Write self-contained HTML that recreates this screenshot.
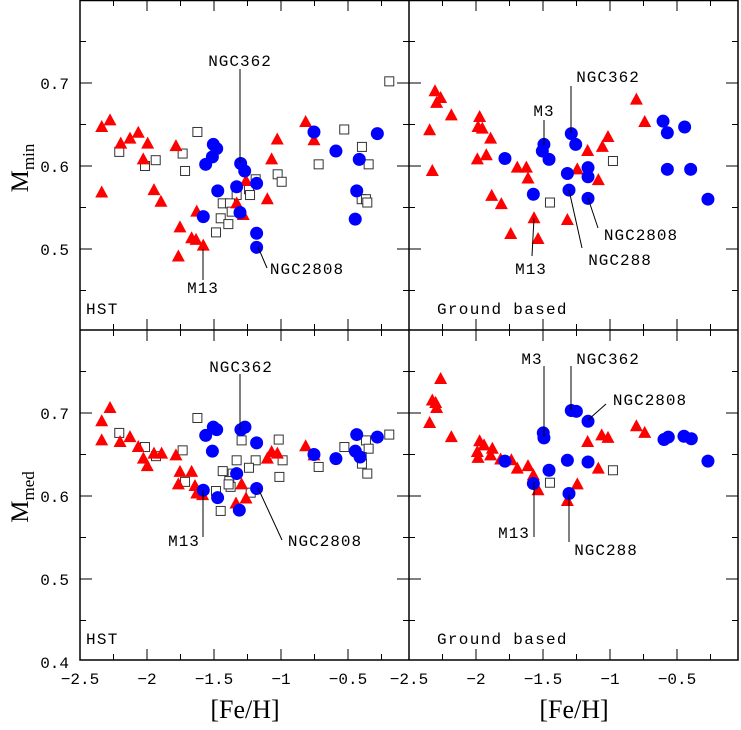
<!DOCTYPE html>
<html><head><meta charset="utf-8"><style>
body{margin:0;background:#fff}
svg text{font-family:"Liberation Serif","DejaVu Serif",serif;fill:#000}
svg text.m{font-family:"Liberation Mono","DejaVu Sans Mono",monospace}
</style></head><body>
<svg id="c" width="741" height="725" xmlns="http://www.w3.org/2000/svg"></svg>
<script>
// Top-left panel (HST, M_min)
const tlTri=[[-2.338,0.647],[-2.276,0.655],[-2.196,0.627],[-2.127,0.633],[-2.065,0.640],[-1.995,0.627],[-2.028,0.608],[-2.338,0.568],[-1.948,0.571],[-1.896,0.557],[-1.784,0.624],[-1.629,0.545],[-1.754,0.526],[-1.667,0.513],[-1.634,0.511],[-1.580,0.504],[-1.766,0.491],[-1.261,0.582],[-1.331,0.555],[-1.282,0.541],[-1.028,0.632],[-1.070,0.608],[-1.102,0.560],[-0.816,0.653],[-0.754,0.631]];
const tlCirc=[[-1.505,0.626],[-1.480,0.621],[-1.512,0.611],[-1.562,0.602],[-1.472,0.570],[-1.580,0.539],[-1.301,0.603],[-1.271,0.594],[-1.331,0.575],[-1.182,0.579],[-1.306,0.544],[-1.182,0.519],[-1.182,0.502],[-0.754,0.641],[-0.590,0.618],[-0.416,0.608],[-0.281,0.639],[-0.435,0.570],[-0.446,0.536]];
const tlSq=[[-0.192,0.702],[-1.624,0.641],[-2.207,0.617],[-1.734,0.615],[-1.935,0.607],[-2.015,0.600],[-1.716,0.594],[-0.528,0.644],[-0.396,0.623],[-0.346,0.602],[-0.719,0.602],[-1.025,0.590],[-0.995,0.581],[-1.189,0.584],[-1.239,0.572],[-1.231,0.565],[-1.331,0.565],[-1.435,0.555],[-1.381,0.555],[-1.368,0.545],[-1.450,0.537],[-1.393,0.530],[-1.485,0.520],[-0.398,0.560],[-0.366,0.560],[-0.356,0.556]];
// Top-right panel (Ground, M_min)
const trTri=[[-2.306,0.690],[-2.264,0.682],[-2.294,0.676],[-2.184,0.661],[-2.346,0.643],[-2.326,0.594],[-1.973,0.659],[-1.985,0.647],[-1.953,0.645],[-1.891,0.633],[-1.923,0.613],[-1.990,0.608],[-1.692,0.598],[-1.624,0.598],[-1.612,0.585],[-1.883,0.564],[-1.811,0.554],[-1.741,0.518],[-1.567,0.537],[-1.537,0.512],[-1.318,0.535],[-1.244,0.596],[-1.167,0.618],[-1.057,0.623],[-1.015,0.635],[-1.087,0.583],[-0.803,0.680],[-0.741,0.653]];
const trCirc=[[-1.784,0.609],[-1.493,0.626],[-1.505,0.618],[-1.455,0.608],[-1.572,0.566],[-1.289,0.639],[-1.256,0.626],[-1.318,0.591],[-1.164,0.598],[-1.164,0.587],[-1.306,0.571],[-1.164,0.561],[-0.604,0.654],[-0.572,0.640],[-0.443,0.647],[-0.572,0.596],[-0.398,0.596],[-0.269,0.560]];
const trSq=[[-0.978,0.606],[-1.448,0.556]];
// Bottom-left panel (HST, M_med)
const blTri=[[-2.276,0.706],[-2.338,0.690],[-2.338,0.667],[-2.201,0.665],[-2.127,0.671],[-2.065,0.659],[-2.027,0.645],[-1.998,0.636],[-1.948,0.651],[-1.891,0.651],[-1.784,0.649],[-1.754,0.629],[-1.667,0.629],[-1.766,0.614],[-1.642,0.612],[-1.629,0.603],[-1.585,0.601],[-1.294,0.614],[-1.336,0.591],[-1.261,0.597],[-1.102,0.645],[-1.070,0.653],[-1.027,0.651],[-0.816,0.660],[-0.754,0.649]];
const blCirc=[[-1.505,0.683],[-1.480,0.680],[-1.562,0.673],[-1.512,0.654],[-1.299,0.680],[-1.269,0.683],[-1.182,0.664],[-1.331,0.627],[-1.580,0.607],[-1.473,0.598],[-1.182,0.609],[-1.311,0.583],[-0.754,0.650],[-0.590,0.645],[-0.435,0.674],[-0.445,0.654],[-0.410,0.647],[-0.281,0.671]];
const blSq=[[-1.624,0.694],[-2.207,0.676],[-2.015,0.659],[-1.933,0.648],[-1.734,0.655],[-1.716,0.617],[-1.294,0.667],[-1.017,0.668],[-0.988,0.643],[-1.012,0.623],[-1.331,0.643],[-1.189,0.643],[-1.239,0.634],[-1.435,0.630],[-1.361,0.627],[-1.386,0.618],[-1.376,0.611],[-1.391,0.614],[-1.485,0.606],[-1.226,0.604],[-1.450,0.582],[-0.719,0.635],[-0.527,0.659],[-0.366,0.667],[-0.346,0.657],[-0.398,0.647],[-0.396,0.639],[-0.356,0.627],[-0.192,0.674]];
// Bottom-right panel (Ground, M_med)
const brTri=[[-2.264,0.741],[-2.326,0.715],[-2.301,0.712],[-2.294,0.706],[-2.346,0.688],[-2.184,0.671],[-1.973,0.666],[-1.940,0.661],[-1.878,0.657],[-1.990,0.653],[-1.891,0.649],[-1.985,0.646],[-1.816,0.644],[-1.736,0.643],[-1.692,0.633],[-1.612,0.636],[-1.572,0.625],[-1.537,0.607],[-1.318,0.594],[-1.244,0.614],[-1.087,0.633],[-1.167,0.665],[-1.062,0.673],[-1.015,0.670],[-0.803,0.684],[-0.741,0.676]];
const brCirc=[[-1.784,0.642],[-1.498,0.676],[-1.493,0.670],[-1.455,0.631],[-1.572,0.615],[-1.289,0.703],[-1.251,0.702],[-1.164,0.690],[-1.318,0.643],[-1.164,0.641],[-1.306,0.603],[-0.597,0.668],[-0.565,0.671],[-0.448,0.672],[-0.393,0.669],[-0.269,0.642]];
const brSq=[[-1.448,0.616],[-0.978,0.631]];
const xTicks=[-2.5,-2,-1.5,-1,-0.5];
const xTickLabels=["\u22122.5","\u22122","\u22121.5","\u22121","\u22120.5"];
const yTicksTop=[0.5,0.6,0.7];
const yTicksBot=[0.4,0.5,0.6,0.7];

const svg=document.getElementById('c');
const NS='http://www.w3.org/2000/svg';
function mk(tag,attrs,parent){const e=document.createElementNS(NS,tag);for(const k in attrs)e.setAttribute(k,attrs[k]);(parent||svg).appendChild(e);return e;}
const X0={l:80,r:409}, PX=134;
const Y0={t:0,b:330}, PY=830;
function xs(side,v){return X0[side]+(v+2.5)*PX;}
function ys(row,v){return Y0[row]+(0.8-v)*PY;}

// frame
let f=mk('rect',{x:80,y:0.5,width:658,height:659.5,fill:'none',stroke:'#000','stroke-width':1.5});

let l1=mk('line',{x1:409,y1:0,x2:409,y2:660,stroke:'#000','stroke-width':1.5});

let l2=mk('line',{x1:80,y1:330,x2:738,y2:330,stroke:'#000','stroke-width':1.5});


// ticks
for(const side of ['l','r']){
  for(const row of ['t','b']){
    for(let k=1;k<10;k++){
      const v=-2.5+k*0.25; const x=xs(side,v);
      const L=(k%2===0)?11:6;
      const yb=Y0[row]+330, yt=Y0[row];
      mk('line',{x1:x,y1:yb,x2:x,y2:yb-L,stroke:'#000'});
      mk('line',{x1:x,y1:yt,x2:x,y2:yt+L,stroke:'#000'});
    }
    for(let k=0;k<=8;k++){
      const v=0.4+k*0.05; const y=ys(row,v); if(y<Y0[row]+1||y>Y0[row]+329) continue;
      const L=(k%2===0)?12:6;
      mk('line',{x1:X0[side],y1:y,x2:X0[side]+L,y2:y,stroke:'#000'});
      mk('line',{x1:X0[side]+329,y1:y,x2:X0[side]+329-L,y2:y,stroke:'#000'});
    }
  }
}
// tick labels
for(const side of ['l','r']){
  xTicks.forEach((v,i)=>{
    if(side==='r'&&i===0) return;
    const t=mk('text',{x:xs(side,v),y:684,'font-size':16,'text-anchor':'middle','class':'m'});t.textContent=xTickLabels[i];
    
  });
}
const t25=mk('text',{x:409,y:684,'font-size':16,'text-anchor':'middle','class':'m'});t25.textContent=xTickLabels[0];

yTicksTop.forEach(v=>{const t=mk('text',{x:69,y:ys('t',v)+6,'font-size':16,'text-anchor':'end','class':'m'});t.textContent=v.toFixed(1);
  });
yTicksBot.forEach(v=>{const t=mk('text',{x:69,y:ys('b',v)+6,'font-size':16,'text-anchor':'end','class':'m'});t.textContent=v.toFixed(1);
  });

// axis titles
for(const [cx,nm] of [[245,'x-axis-title-left'],[574,'x-axis-title-right']]){
  const t=mk('text',{x:cx,y:718,'font-size':26,'text-anchor':'middle'});t.textContent='[Fe/H]';
  
}
function ytitle(cy,sub,nm){
  const t=mk('text',{transform:`translate(28,${cy}) rotate(-90)`,'font-size':25,'text-anchor':'middle'});
  
  const a=mk('tspan',{},t);a.textContent='M';
  const b=mk('tspan',{'font-size':17,dy:6},t);b.textContent=sub;
}
ytitle(168,'min','y-axis-title-top');ytitle(497,'med','y-axis-title-bottom');

// markers
function tri(x,y){return `${x},${y-7} ${x-6.5},${y+5} ${x+6.5},${y+5}`;}
function draw(side,row,T,C,S,panel){
  S.forEach(p=>{const e=mk('rect',{x:xs(side,p[0])-4.5,y:ys(row,p[1])-4.5,width:9,height:9,fill:'#fff',stroke:'#333','stroke-width':1});
    });
  T.forEach(p=>{const e=mk('polygon',{points:tri(xs(side,p[0]),ys(row,p[1])),fill:'#f00'});
    });
  C.forEach(p=>{const e=mk('circle',{cx:xs(side,p[0]),cy:ys(row,p[1]),r:6.5,fill:'#00f'});
    });
}
draw('l','t',tlTri,tlCirc,tlSq,'top-left');
draw('r','t',trTri,trCirc,trSq,'top-right');
draw('l','b',blTri,blCirc,blSq,'bottom-left');
draw('r','b',brTri,brCirc,brSq,'bottom-right');

// annotations
function ann(text,tx,ty,x1,y1,x2,y2){
  mk('line',{x1:x1,y1:y1,x2:x2,y2:y2,stroke:'#000','stroke-width':1});
  const t=mk('text',{x:tx,y:ty,'font-size':16,'text-anchor':'middle','class':'m','letter-spacing':1});t.textContent=text;
  
}
ann('NGC362',240,66,240,69,240,163);
ann('NGC2808',307,274,258,247,267,268);
ann('M13',203,293,203,249,203,280);
ann('M3',544,116,544,120,544,145);
ann('NGC362',608,82,571,86,571,133);
ann('NGC2808',641,240,588,198,598,228);
ann('NGC288',620,265,569,190,582,248);
ann('M13',531,274,534,218,532,256);
ann('NGC362',241,372,240,374,240,430);
ann('M13',184,546,203,490,203,537);
ann('NGC2808',325,546,258,488,282,540);
ann('M3',532,364,544,366,544,437);
ann('NGC362',608,364,571,366,571,410);
ann('NGC2808',650,405,588,420,606,404);
ann('M13',514,538,534,482,534,537);
ann('NGC288',606,555,569,495,569,542);
// panel labels
for(const [x,y,s,n] of [[86,314,'HST','top-left-label'],[437,314,'Ground based','top-right-label'],[86,644,'HST','bottom-left-label'],[437,644,'Ground based','bottom-right-label']]){
  const t=mk('text',{x:x,y:y,'font-size':16,'class':'m','letter-spacing':1.3});t.textContent=s;
  
}
</script>
</body></html>
